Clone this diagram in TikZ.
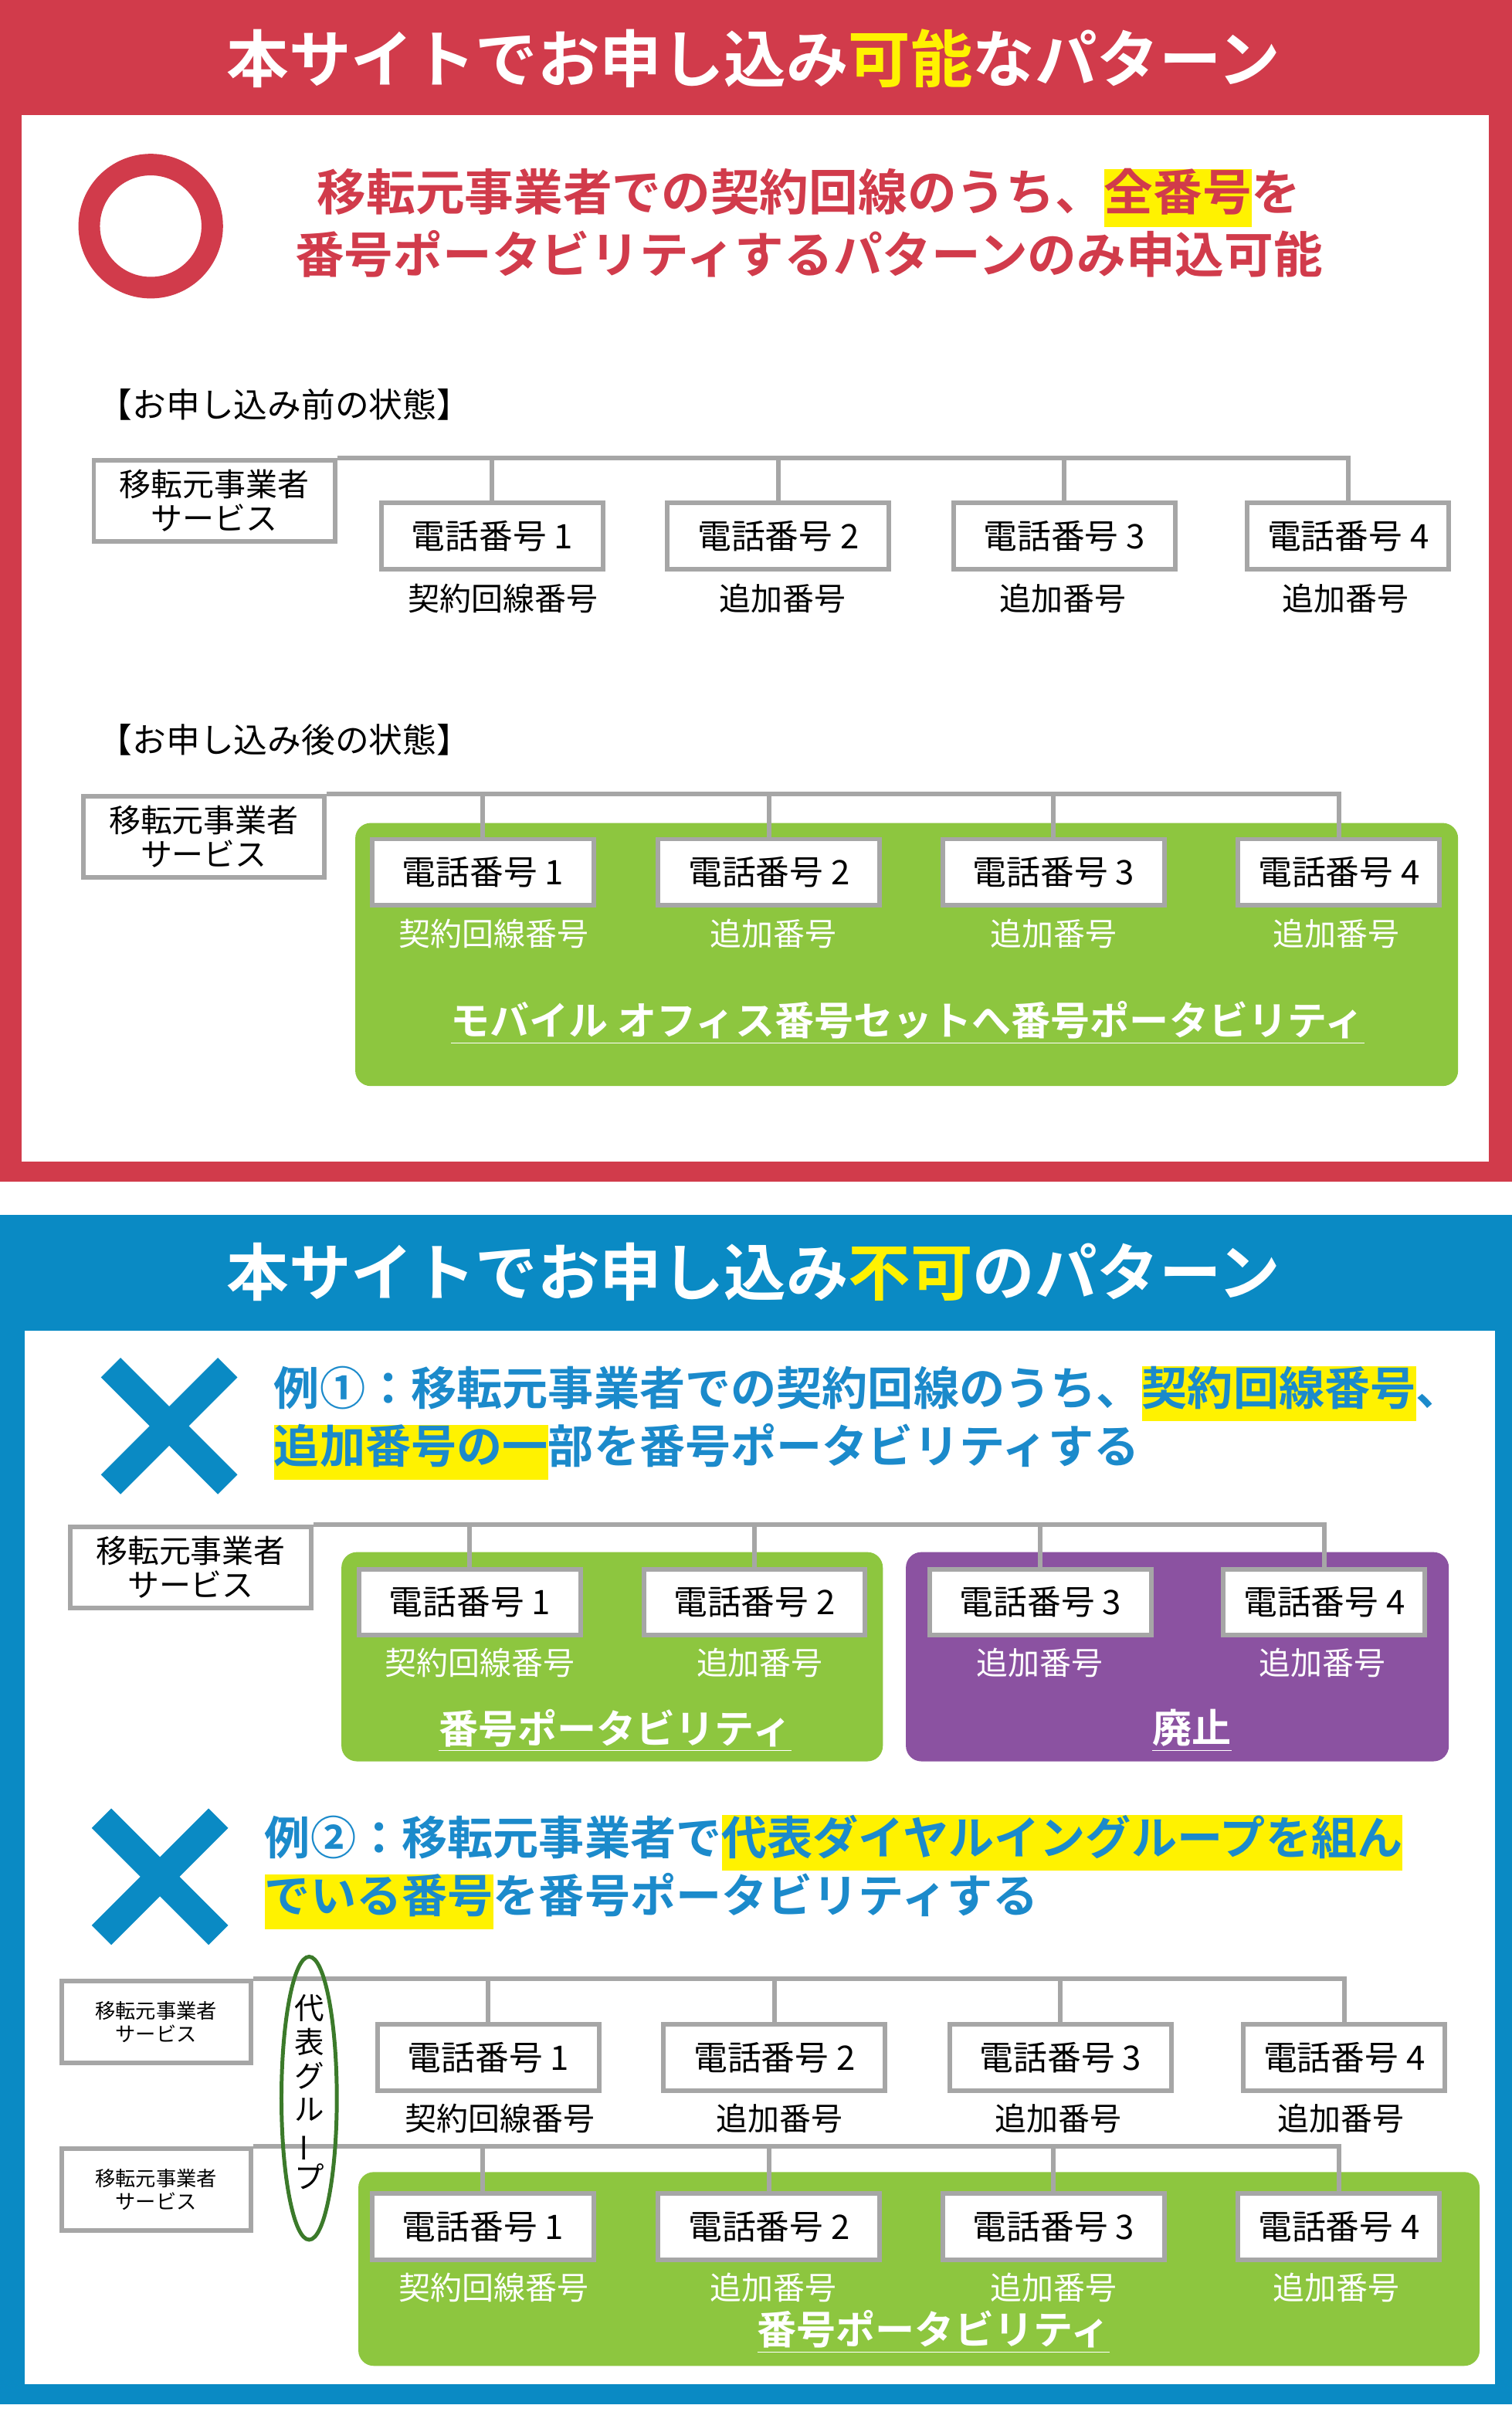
\documentclass[tikz,border=0pt]{standalone}
\usepackage{fontspec}
\usepackage{graphicx}
\setmainfont{Noto Sans CJK JP}[BoldFont={Noto Sans CJK JP Bold}]
\usetikzlibrary{positioning}
\definecolor{redpanel}{HTML}{D13B4B}
\definecolor{bluepanel}{HTML}{0A8AC4}
\definecolor{bluetext}{HTML}{1B8ACB}
\definecolor{greenbox}{HTML}{8DC63F}
\definecolor{purplebox}{HTML}{8B52A1}
\definecolor{graybox}{HTML}{A6A6A6}
\definecolor{ellgreen}{HTML}{3B7A2A}
\newcommand\hlyel[1]{{\setlength\fboxsep{0pt}\colorbox{yellow}{\strut #1}}}
\tikzset{
  phone/.style={draw=graybox, line width=0.6mm, fill=white, minimum width=28.8mm, minimum height=8.6mm, inner sep=0pt, font=\fontsize{12.5}{14}\selectfont},
  phonesm/.style={phone, minimum width=26.2mm},
  svc/.style={draw=graybox, line width=0.6mm, fill=white, minimum width=31.4mm, minimum height=10.6mm, inner sep=0pt, align=center, font=\fontsize{11.7}{12.5}\selectfont},
  svcsm/.style={svc, minimum width=24.6mm, font=\fontsize{7.5}{8.5}\selectfont},
  numlabel/.style={font=\fontsize{11.7}{13}\selectfont},
  whitelabel/.style={numlabel, text=white},
  bus/.style={draw=graybox, line width=0.6mm},
  heading/.style={text=white, font=\bfseries\fontsize{23}{26}\selectfont},
}
\begin{document}
\begin{tikzpicture}[x=0.2mm, y=-0.2mm]
\useasboundingbox (0,0) rectangle (983,1568);
\fill[white] (0,0) rectangle (983,1568);
% top panel
\fill[redpanel] (0,0) rectangle (983,768);
\fill[white] (14,75) rectangle (968,755);
\node[heading] (titleA) at (490,38) {本サイトでお申し込み\textcolor{yellow}{可能}なパターン};
\draw[redpanel, line width=2.8mm] (98,147) ellipse (40 and 40);
\node[text=redpanel, font=\bfseries\fontsize{18.2}{20.5}\selectfont, align=center] (leadA) at (526,145) {移転元事業者での契約回線のうち、\hlyel{全番号}を\\番号ポータビリティするパターンのみ申込可能};
\node[anchor=west, font=\fontsize{12.5}{14}\selectfont] (beforeA) at (58,263) {【お申し込み前の状態】};
\node[svc] (svcA) at (139.5,325.5) {移転元事業者\\サービス};
\node[phone] (pA1) at (320,348.5) {電話番号 1};
\node[phone] (pA2) at (506,348.5) {電話番号 2};
\node[phone] (pA3) at (692,348.5) {電話番号 3};
\node[phonesm] (pA4) at (876.5,348.5) {電話番号 4};
\draw[bus] (svcA.north east) -| (pA4.north);
\foreach \i in {1,2,3} \draw[bus] (pA\i.north) -- (pA\i.north |- svcA.north);
\node[numlabel] (lA1) at (327,389) {契約回線番号};
\node[numlabel] (lA2) at (509,389) {追加番号};
\node[numlabel] (lA3) at (691,389) {追加番号};
\node[numlabel] (lA4) at (875,389) {追加番号};
\node[anchor=west, font=\fontsize{12.5}{14}\selectfont] (afterA) at (58,481) {【お申し込み後の状態】};
\fill[greenbox, rounded corners=2mm] (231,535) rectangle (948,706);
\node[svc] (svcB) at (132.5,544) {移転元事業者\\サービス};
\node[phone] (pB1) at (314,567) {電話番号 1};
\node[phone] (pB2) at (500,567) {電話番号 2};
\node[phone] (pB3) at (685,567) {電話番号 3};
\node[phonesm] (pB4) at (870.5,567) {電話番号 4};
\draw[bus] (svcB.north east) -| (pB4.north);
\foreach \i in {1,2,3} \draw[bus] (pB\i.north) -- (pB\i.north |- svcB.north);
\node[whitelabel] (lB1) at (321,607) {契約回線番号};
\node[whitelabel] (lB2) at (503,607) {追加番号};
\node[whitelabel] (lB3) at (685,607) {追加番号};
\node[whitelabel] (lB4) at (869,607) {追加番号};
\node[text=white, font=\bfseries\fontsize{14.6}{16}\selectfont] (mnpB) at (590,665) {\underline{モバイル オフィス番号セットへ番号ポータビリティ}};
% bottom panel
\fill[bluepanel] (0,790) rectangle (983,1563);
\fill[white] (16,865) rectangle (972,1550);
\node[heading] (titleB) at (490,827) {本サイトでお申し込み\textcolor{yellow}{不可}のパターン};
\draw[bluepanel, line width=3.6mm] (72,889) -- (148,965) (148,889) -- (72,965);
\node[anchor=west, text=bluetext, font=\bfseries\fontsize{16.9}{20}\selectfont, align=left] (leadC) at (172,925) {例①：移転元事業者での契約回線のうち、\hlyel{契約回線番号}、\\\hlyel{追加番号の一}部を番号ポータビリティする};
\fill[greenbox, rounded corners=2mm] (222,1009) rectangle (574,1145);
\fill[purplebox, rounded corners=2mm] (589,1009) rectangle (942,1145);
\node[svc] (svcC) at (124,1019) {移転元事業者\\サービス};
\node[phone] (pC1) at (305.5,1041.5) {電話番号 1};
\node[phone] (pC2) at (490.5,1041.5) {電話番号 2};
\node[phone] (pC3) at (676.5,1041.5) {電話番号 3};
\node[phonesm] (pC4) at (861,1041.5) {電話番号 4};
\draw[bus] (svcC.north east) -| (pC4.north);
\foreach \i in {1,2,3} \draw[bus] (pC\i.north) -- (pC\i.north |- svcC.north);
\node[whitelabel] (lC1) at (312,1081) {契約回線番号};
\node[whitelabel] (lC2) at (494,1081) {追加番号};
\node[whitelabel] (lC3) at (676,1081) {追加番号};
\node[whitelabel] (lC4) at (860,1081) {追加番号};
\node[text=white, font=\bfseries\fontsize{14.6}{16}\selectfont] (mnpC) at (400,1125) {\underline{番号ポータビリティ}};
\node[text=white, font=\bfseries\fontsize{14.6}{16}\selectfont] (abolC) at (775,1125) {\underline{廃止}};
\draw[bluepanel, line width=3.6mm] (66,1182) -- (142,1258) (142,1182) -- (66,1258);
\node[anchor=west, text=bluetext, font=\bfseries\fontsize{16.9}{20}\selectfont, align=left] (leadD) at (166,1217) {例②：移転元事業者で\hlyel{代表ダイヤルイングループを組ん}\\\hlyel{でいる番号}を番号ポータビリティする};
\fill[greenbox, rounded corners=2mm] (233,1412) rectangle (962,1538);
\node[svcsm] (svcD) at (101.5,1314.5) {移転元事業者\\サービス};
\node[phone] (pD1) at (317.5,1337.5) {電話番号 1};
\node[phone] (pD2) at (503.5,1337.5) {電話番号 2};
\node[phone] (pD3) at (689.5,1337.5) {電話番号 3};
\node[phonesm] (pD4) at (874,1337.5) {電話番号 4};
\draw[bus] (svcD.north east) -| (pD4.north);
\foreach \i in {1,2,3} \draw[bus] (pD\i.north) -- (pD\i.north |- svcD.north);
\node[numlabel] (lD1) at (325,1377) {契約回線番号};
\node[numlabel] (lD2) at (507,1377) {追加番号};
\node[numlabel] (lD3) at (688,1377) {追加番号};
\node[numlabel] (lD4) at (872,1377) {追加番号};
\node[svcsm] (svcE) at (101.5,1423.5) {移転元事業者\\サービス};
\node[phone] (pE1) at (314,1447.5) {電話番号 1};
\node[phone] (pE2) at (500,1447.5) {電話番号 2};
\node[phone] (pE3) at (685,1447.5) {電話番号 3};
\node[phonesm] (pE4) at (870.5,1447.5) {電話番号 4};
\draw[bus] (svcE.north east) -| (pE4.north);
\foreach \i in {1,2,3} \draw[bus] (pE\i.north) -- (pE\i.north |- svcE.north);
\node[whitelabel] (lE1) at (321,1487) {契約回線番号};
\node[whitelabel] (lE2) at (503,1487) {追加番号};
\node[whitelabel] (lE3) at (685,1487) {追加番号};
\node[whitelabel] (lE4) at (869,1487) {追加番号};
\node[text=white, font=\bfseries\fontsize{14.6}{16}\selectfont] (mnpE) at (607,1516) {\underline{番号ポータビリティ}};
\draw[ellgreen, line width=0.5mm] (201,1364) ellipse (18 and 92);
\node[font=\fontsize{11}{12.5}\selectfont, align=center, inner sep=0pt] (groupD) at (201,1360) {代\\表\\グ\\ル\\\rotatebox[origin=c]{90}{ー}\\プ};
\end{tikzpicture}
\end{document}
